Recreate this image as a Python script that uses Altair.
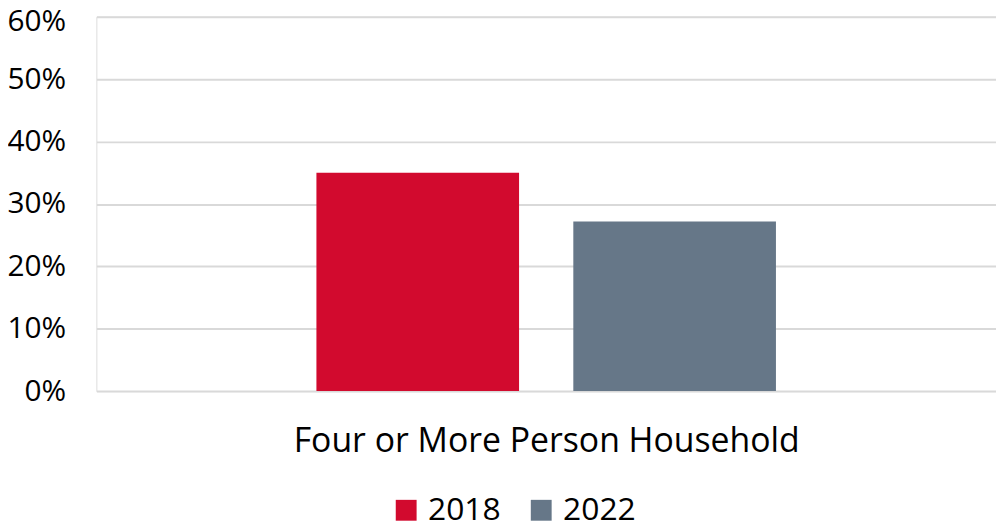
import altair as alt
import pandas as pd

years = ["2018", "2022"]
values = [0.350, 0.272]
category = "Four or More Person Household"
colors = ["#D20A2E", "#667788"]

df = pd.DataFrame({"year": years, "value": values, "category": [category] * len(years)})

font = "Open Sans"

chart = alt.Chart(df).mark_bar().encode(
    x=alt.X(
        "year:N",
        sort=years,
        scale=alt.Scale(paddingInner=0.2112, paddingOuter=0.8566, round=False),
        axis=alt.Axis(
            labels=False, ticks=False, domain=False, title=category,
            titleFontSize=34, titleFont=font, titleFontWeight="normal",
            titleColor="#000000", titlePadding=34,
        ),
    ),
    y=alt.Y(
        "value:Q",
        scale=alt.Scale(domain=[0, 0.6]),
        axis=alt.Axis(
            format=".0%", values=[0, 0.1, 0.2, 0.3, 0.4, 0.5, 0.6], title=None,
            domain=False, ticks=False, labelFontSize=30, labelFont=font,
            labelColor="#000000", labelPadding=31, gridColor="#D9D9D9", gridWidth=2,
            labelOffset={"condition": {"test": "datum.value >= 0.6", "value": 5}, "value": 0},
        ),
    ),
    color=alt.Color(
        "year:N",
        scale=alt.Scale(domain=years, range=colors),
        legend=alt.Legend(
            title=None, orient="none", direction="horizontal", legendX=296, legendY=481,
            symbolType="square", symbolSize=441, symbolStrokeWidth=0, labelFontSize=32,
            labelFont=font, labelColor="#000000", labelOffset=6, columnPadding=24,
        ),
    ),
).properties(
    width=906,
    height=377,
    autosize=alt.AutoSizeParams(type="none"),
    padding={"left": 89, "top": 7, "right": 0, "bottom": 133},
).configure_view(stroke=None).configure(background="white")

chart.save("out.html", embed_options={"renderer": "svg", "actions": False})
